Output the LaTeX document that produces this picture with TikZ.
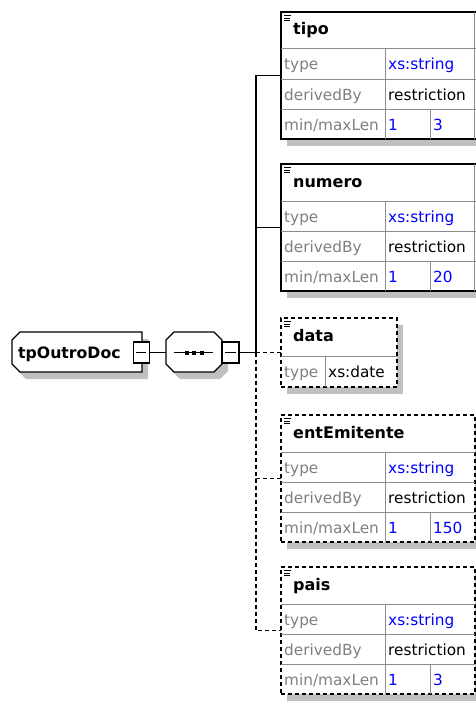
\documentclass[tikz,border=0pt]{standalone}
\usepackage{fontspec}
\setmainfont{DejaVu Sans}
\definecolor{labelgray}{HTML}{808080}
\definecolor{valblue}{HTML}{0000FF}
\definecolor{gridgray}{HTML}{8C8C8C}
\definecolor{shadowgray}{HTML}{C0C0C0}

% restriction element box: #1 name, #2 top, #3 title, #4 max length,
% #5 border style, #6 right edge
\newcommand\restrictbox[6]{%
  \pgfmathsetmacro\rbA{#2+37}%
  \pgfmathsetmacro\rbB{#2+67}%
  \pgfmathsetmacro\rbC{#2+97}%
  \pgfmathsetmacro\rbD{#2+127}%
  \fill[shadowgray] (287,{#2+7}) rectangle ({#6+6},{\rbD+7});
  \node[#5,fill=white,anchor=north west,minimum width={#6-281},
        minimum height=127,inner sep=0,outer sep=0] (#1) at (281,#2) {};
  \draw[gridline] (281,\rbA) -- (#6,\rbA);
  \draw[gridline] (281,\rbB) -- (#6,\rbB);
  \draw[gridline] (281,\rbC) -- (#6,\rbC);
  \draw[gridline] (385,\rbA) -- (385,\rbD);
  \draw[gridline] (430,\rbC) -- (430,\rbD);
  \draw[iconline] (284,{#2+3.8}) -- (291,{#2+3.8});
  \draw[iconline] (284,{#2+6.2}) -- (290,{#2+6.2});
  \draw[iconline] (284,{#2+8.6}) -- (290,{#2+8.6});
  \node[ttl] (#1-title) at (293,{#2+23}) {#3};
  \node[lbl] (#1-type) at (284,{\rbA+21}) {type};
  \node[val] (#1-typeval) at (388,{\rbA+21}) {xs:string};
  \node[lbl] (#1-der) at (284,{\rbB+21}) {derivedBy};
  \node[plain] (#1-derval) at (388,{\rbB+21}) {restriction};
  \node[lbl] (#1-len) at (284,{\rbC+21}) {min/maxLen};
  \node[val] (#1-min) at (388,{\rbC+21}) {1};
  \node[val] (#1-max) at (433,{\rbC+21}) {#4};
}

\begin{document}
\begin{tikzpicture}[x=1pt,y=-1pt,
  frame/.style={draw=black,line width=1.4pt},
  optframe/.style={draw=black,line width=1.3pt,dash pattern=on 4pt off 3pt},
  gridline/.style={draw=gridgray,line width=1pt},
  iconline/.style={draw=black,line width=0.9pt},
  conn/.style={draw=black,line width=1.3pt},
  optconn/.style={draw=black,line width=1.3pt,dash pattern=on 4pt off 3pt},
  expbox/.style={draw=black,fill=white,line width=1.3pt,minimum width=16,
    minimum height=21,inner sep=0,outer sep=0},
  ttl/.style={anchor=base west,inner sep=0,font=\fontsize{16}{19}\selectfont\bfseries},
  lbl/.style={anchor=base west,inner sep=0,text=labelgray,font=\fontsize{15.3}{18}\selectfont},
  val/.style={anchor=base west,inner sep=0,text=valblue,font=\fontsize{15.3}{18}\selectfont},
  plain/.style={anchor=base west,inner sep=0,text=black,font=\fontsize{15.3}{18}\selectfont},
]
\useasboundingbox (0,0) rectangle (476,701);
\clip (0,0) rectangle (476,701);

% root complex type
\fill[shadowgray,shift={(6,7)}] (12,340) -- (20,332) -- (142,332) -- (142,372)
  -- (20,372) -- (12,364) -- cycle;
\draw[frame,fill=white] (12,340) -- (20,332) -- (142,332) -- (142,372)
  -- (20,372) -- (12,364) -- cycle;
\node[ttl,font=\fontsize{15.7}{19}\selectfont\bfseries] (root) at (18,358.5) {tpOutroDoc};
\node[expbox] (rootexp) at (141.3,352.5) {};
\draw[conn] ([xshift=3pt]rootexp.west) -- ([xshift=-3pt]rootexp.east);

% sequence compositor
\fill[shadowgray,shift={(6,7)}] (166,340) -- (174,332) -- (214,332) -- (222,340)
  -- (222,364) -- (214,372) -- (174,372) -- (166,364) -- cycle;
\draw[frame,fill=white] (166,340) -- (174,332) -- (214,332) -- (222,340)
  -- (222,364) -- (214,372) -- (174,372) -- (166,364) -- cycle;
\node[inner sep=0,outer sep=0,minimum width=56,minimum height=40] (seq) at (194,352.5) {};
\draw[conn] (174,352.5) -- (213,352.5);
\fill (184.5,350.5) rectangle (188.5,354.5);
\fill (191.5,350.5) rectangle (195.5,354.5);
\fill (199.5,350.5) rectangle (203.5,354.5);
\node[expbox,minimum width=17] (seqexp) at (230.5,352.5) {};
\draw[conn] ([xshift=3pt]seqexp.west) -- ([xshift=-3pt]seqexp.east);

% child elements
\restrictbox{tipo}{12}{tipo}{3}{frame}{478}
\draw[gridline] (474.5,12) -- (474.5,139);
\restrictbox{numero}{164}{numero}{20}{frame}{478}
\draw[gridline] (474.5,164) -- (474.5,291);

% optional date element
\fill[shadowgray] (287,325) rectangle (403,394);
\node[optframe,fill=white,anchor=north west,minimum width=116,minimum height=69,
      inner sep=0,outer sep=0] (data) at (281,318) {};
\draw[gridline] (281,356) -- (397,356);
\draw[gridline] (325,356) -- (325,387);
\draw[iconline] (284,321.8) -- (291,321.8);
\draw[iconline] (284,324.2) -- (290,324.2);
\draw[iconline] (284,326.6) -- (290,326.6);
\node[ttl] (data-title) at (293,341) {data};
\node[lbl] (data-type) at (284,377) {type};
\node[plain] (data-typeval) at (328,377) {xs:date};

\restrictbox{entEmitente}{415}{entEmitente}{150}{optframe}{475}
\restrictbox{pais}{567}{pais}{3}{optframe}{475}

% connectors
\coordinate (spine) at (256,352.5);
\draw[conn] (rootexp.east) -- (seq.west);
\draw[conn] (seqexp.east) -- (spine);
\draw[conn] (spine) |- (tipo.west);
\draw[conn] (spine) |- (numero.west);
\draw[optconn] (spine) -- (data.west);
\draw[optconn] (spine) |- (entEmitente.west);
\draw[optconn] (spine) |- (pais.west);
\end{tikzpicture}
\end{document}
